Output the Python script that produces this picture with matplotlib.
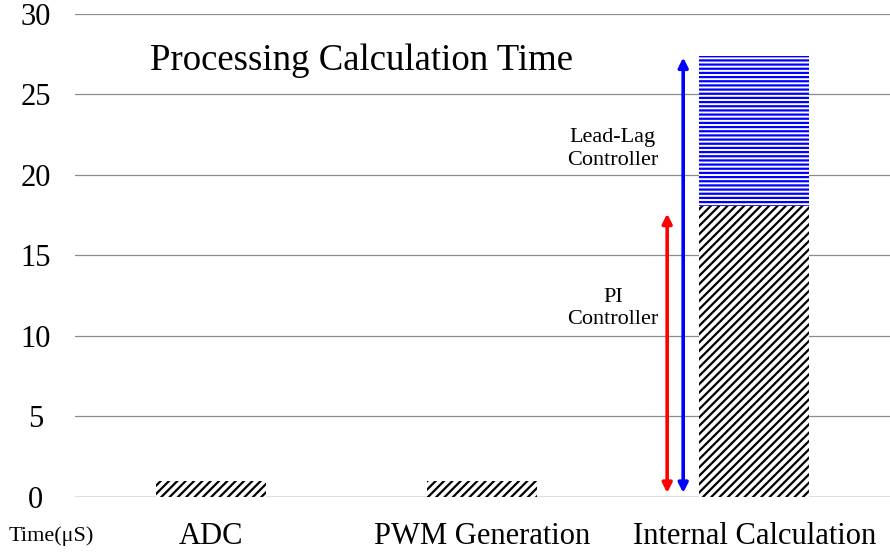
import matplotlib
matplotlib.use('Agg')
import matplotlib.pyplot as plt

# Data
categories = ['ADC', 'PWM Generation', 'Internal Calculation']
base_time = [1.0, 1.0, 18.1]       # hatched black part (PI controller for internal calc)
leadlag_extra = [0.0, 0.0, 9.3]    # extra time for lead-lag controller
y_ticks = [0, 5, 10, 15, 20, 25, 30]


def main():
    plt.rcParams['font.family'] = ['Liberation Serif', 'DejaVu Serif']
    plt.rcParams['hatch.linewidth'] = 1.6

    fig = plt.figure(figsize=(8.9, 5.53), dpi=100)
    ax = fig.add_axes([0.084, 0.1013, 0.916, 0.8734])

    x = list(range(len(categories)))
    ax.bar(x, base_time, width=0.404, color='white', edgecolor='black',
           linewidth=0, hatch='////', zorder=2)
    ax.bar(x, leadlag_extra, width=0.404, bottom=base_time, color='white',
           edgecolor='#0000ff', linewidth=0, hatch='----', zorder=2)

    ax.set_xlim(-0.5, 2.5)
    ax.set_ylim(0, 30)
    ax.set_yticks(y_ticks)
    ax.set_yticklabels([str(t) for t in y_ticks], ha='center', fontsize=22)
    ax.tick_params(axis='y', length=0, pad=28)
    ax.set_xticks(x)
    ax.set_xticklabels(categories, fontsize=22)
    ax.tick_params(axis='x', length=0, pad=18)

    for t in y_ticks[1:]:
        ax.axhline(t, color='#8c8c8c', linewidth=0.9, zorder=1)
    ax.axhline(0, color='#d9d9d9', linewidth=1.2, zorder=1)
    for s in ax.spines.values():
        s.set_visible(False)

    # controller arrows
    pi_x, ll_x = 1.68, 1.739
    ax.annotate('', xy=(pi_x, 0.25), xytext=(pi_x, base_time[2] - 0.5),
                arrowprops=dict(arrowstyle='<|-|>', color='#ff0000', lw=2.6,
                                mutation_scale=14, shrinkA=0, shrinkB=0), zorder=3)
    ax.annotate('', xy=(ll_x, 0.25), xytext=(ll_x, base_time[2] + leadlag_extra[2] - 0.1),
                arrowprops=dict(arrowstyle='<|-|>', color='#0000ff', lw=2.6,
                                mutation_scale=14, shrinkA=0, shrinkB=0), zorder=3)

    ax.text(1.48, 21.6, 'Lead-Lag\nController', ha='center', va='center',
            fontsize=16, linespacing=1.25)
    ax.text(1.48, 11.7, 'PI\nController', ha='center', va='center',
            fontsize=16, linespacing=1.25)
    ax.text(0.555, 27.1, 'Processing Calculation Time', ha='center', va='center',
            fontsize=26.5)

    fig.text(51 / 890, 1 - 536 / 553, 'Time(\u03bcS)', ha='center', va='center', fontsize=16)

    fig.savefig('out.png', dpi=100)


if __name__ == "__main__":
    main()
